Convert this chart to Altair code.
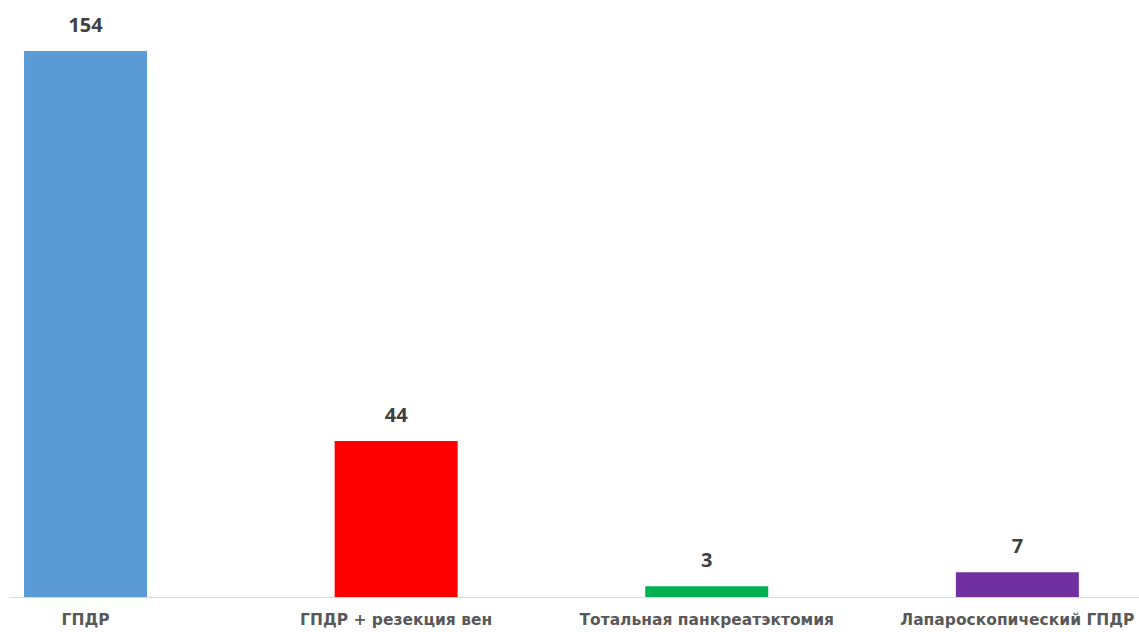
import altair as alt
import pandas as pd

categories = ["ГПДР", "ГПДР + резекция вен", "Тотальная панкреатэктомия", "Лапароскопический ГПДР"]
values = [154, 44, 3, 7]
colors = ["#5B9BD5", "#FF0000", "#00B050", "#7030A0"]

df = pd.DataFrame({"cat": categories, "val": values, "col": colors})

x = alt.X("cat:N", sort=categories, title=None,
          scale=alt.Scale(paddingInner=0.604, paddingOuter=0.121, align=0.2),
          axis=alt.Axis(labelAngle=0, domainColor="#D9D9D9", domainWidth=1.2, ticks=False,
                        labelFont="DejaVu Sans", labelFontWeight="bold", labelFontSize=15.5,
                        labelColor="#595959", labelPadding=15, labelBaseline="top", labelLimit=0))
y = alt.Y("val:Q", title=None, scale=alt.Scale(domain=[0, 168.4], nice=False, zero=True), axis=None)

bars = alt.Chart(df).mark_bar().encode(x=x, y=y, color=alt.Color("col:N", scale=None))
labels = alt.Chart(df).mark_text(font="Open Sans", fontWeight="bold", fontSize=20, color="#404040",
                                 baseline="bottom", dy=-15).encode(x=x, y=y, text="val:Q")

chart = (bars + labels).properties(
    width=1130, height=597,
    autosize=alt.AutoSizeParams(type="none"),
    padding={"left": 9, "top": 0, "right": 0, "bottom": 35},
    background="white",
).configure_view(stroke=None)

chart.save("out.html", embed_options={"renderer": "svg", "actions": False})
